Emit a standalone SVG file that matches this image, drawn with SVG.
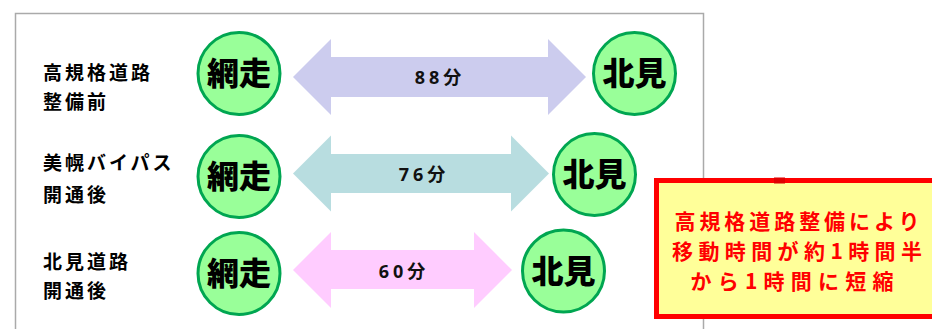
<svg xmlns="http://www.w3.org/2000/svg" width="932" height="329" viewBox="0 0 932 329">
<style>
.lbl{font-family:"Noto Sans CJK JP","Noto Sans",sans-serif;font-weight:bold;font-size:19px;fill:#000;letter-spacing:3px}
.node circle{fill:#99FF99;stroke:#00A651;stroke-width:3}
.node text{font-family:"Noto Sans CJK JP",sans-serif;font-weight:900;font-size:32px;fill:#000;text-anchor:middle}
.time{font-family:"Noto Sans","Noto Sans CJK JP",sans-serif;font-weight:bold;font-size:18px;fill:#111;text-anchor:middle;letter-spacing:4px}
.note{font-family:"Noto Sans CJK JP",sans-serif;font-weight:bold;font-size:21px;fill:#FF0000;text-anchor:middle}
</style>
<rect width="932" height="329" fill="#fff"/>
<path d="M15.5 329 V13.5 H703.5 V329" fill="none" stroke="#aaaaaa" stroke-width="1.5"/>

<g id="labels">
<text class="lbl" x="43" y="80">高規格道路</text>
<text class="lbl" x="43" y="109">整備前</text>
<text class="lbl" x="43" y="170">美幌バイパス</text>
<text class="lbl" x="43" y="202">開通後</text>
<text class="lbl" x="43" y="269">北見道路</text>
<text class="lbl" x="43" y="298">開通後</text>
</g>

<g id="connectors">
<g id="arrow1">
<polygon points="293,77 331,39 331,57 548,57 548,39 586,77 548,115 548,97 331,97 331,115" fill="#CCCCEE"/>
<text class="time" x="440" y="84">88分</text>
</g>
<g id="arrow2">
<polygon points="293,173.5 331,135.5 331,154 511,154 511,135.5 549,173.5 511,211.5 511,193 331,193 331,211.5" fill="#B8DDE0"/>
<text class="time" x="424" y="181">76分</text>
</g>
<g id="arrow3">
<polygon points="293,270 331,232 331,250 474,250 474,232 512,270 474,308 474,289 331,289 331,308" fill="#FFCCFF"/>
<text class="time" x="404" y="278">60分</text>
</g>
</g>

<g id="abashiri1" class="node"><circle cx="239" cy="73.5" r="41"/><text x="239" y="85">網走</text></g>
<g id="abashiri2" class="node"><circle cx="239" cy="176.5" r="41"/><text x="239" y="188">網走</text></g>
<g id="abashiri3" class="node"><circle cx="239" cy="273.5" r="41"/><text x="239" y="285">網走</text></g>
<g id="kitami1" class="node"><circle cx="634.5" cy="73.5" r="41"/><text x="634.5" y="85">北見</text></g>
<g id="kitami2" class="node"><circle cx="594.5" cy="174.5" r="41"/><text x="594.5" y="186">北見</text></g>
<g id="kitami3" class="node"><circle cx="563.5" cy="271" r="41"/><text x="563.5" y="282.5">北見</text></g>

<g id="note">
<rect x="656.5" y="180.5" width="290" height="136" fill="#FFFF99" stroke="#FF0000" stroke-width="5"/>
<rect x="774" y="177.5" width="11" height="6" fill="#E00000"/>
<text class="note" x="797" y="229" textLength="245" lengthAdjust="spacing">高規格道路整備により</text>
<text class="note" x="797" y="259" textLength="250" lengthAdjust="spacing">移動時間が約1時間半</text>
<text class="note" x="792" y="289" textLength="203" lengthAdjust="spacing">から1時間に短縮</text>
</g>
</svg>
